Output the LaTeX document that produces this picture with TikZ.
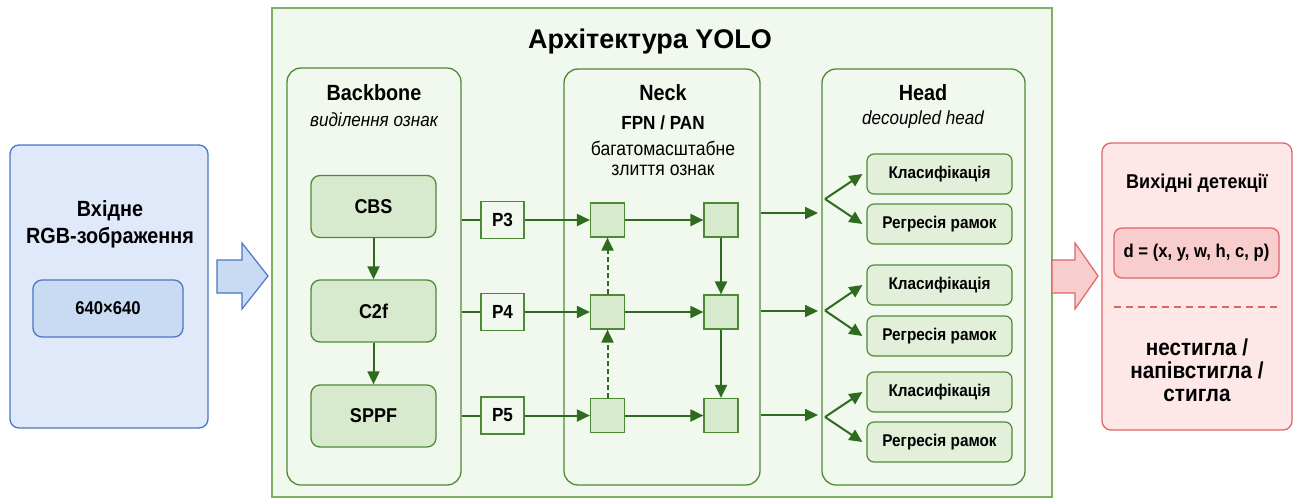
\documentclass[tikz,border=0pt]{standalone}
\usepackage{fontspec}
\setmainfont{Liberation Sans}[FakeStretch=0.9]
\newfontfamily\titlefont{Liberation Sans}
\usetikzlibrary{arrows.meta}

\definecolor{bluefill}{HTML}{DFE9F9}
\definecolor{blueinner}{HTML}{C9DAF3}
\definecolor{blueline}{HTML}{4A76C4}
\definecolor{yolofill}{HTML}{F1F8EE}
\definecolor{yololine}{HTML}{7DB062}
\definecolor{grline}{HTML}{4E8A36}
\definecolor{grnode}{HTML}{D8EACD}
\definecolor{grlight}{HTML}{E2F0DA}
\definecolor{grarrow}{HTML}{2E6B1E}
\definecolor{redfill}{HTML}{FDE7E7}
\definecolor{redinner}{HTML}{F8CDCD}
\definecolor{redline}{HTML}{E06666}

\newcommand{\fsz}[2]{\fontsize{#1}{#2}\selectfont}

\begin{document}
\begin{tikzpicture}[x=1pt,y=-1pt,
  lbl/.style={inner sep=0pt, text=black},
  stage/.style={draw=grline, line width=1.3pt, fill=yolofill, rounded corners=14pt, inner sep=0pt},
  block/.style={draw=grline, line width=1.3pt, fill=grnode, rounded corners=9pt,
    minimum width=125pt, minimum height=62pt, inner sep=0pt, font=\bfseries\fsz{20}{24}},
  pbox/.style={draw=grline, line width=1.2pt, fill=yolofill, minimum width=43pt,
    minimum height=37pt, inner sep=0pt, font=\bfseries\fsz{19}{22}},
  sq/.style={draw=grline, line width=1.2pt, fill=grnode, minimum size=34pt, inner sep=0pt},
  hbox/.style={draw=grline, line width=1.2pt, fill=grlight, rounded corners=7pt,
    minimum width=145pt, minimum height=40pt, inner sep=0pt, font=\bfseries\fsz{17}{20}},
  link/.style={draw=grarrow, line width=2pt},
  flow/.style={link, -{Triangle[length=13pt,width=12pt]}},
  skip/.style={flow, dash pattern=on 5pt off 3pt},
  bigarrow/.style={line width=1.2pt, line join=miter}
]
\useasboundingbox (0,0) rectangle (1296,499);

% ---------- input ----------
\node[draw=blueline, line width=1.3pt, fill=bluefill, rounded corners=9pt,
      minimum width=198pt, minimum height=283pt, inner sep=0pt] (inbox) at (109,286.5) {};
\node[lbl, align=center, font=\bfseries\fsz{22}{27}] (intext) at (110,224) {Вхідне\\RGB-зображення};
\node[draw=blueline, line width=1.3pt, fill=blueinner, rounded corners=9pt,
      minimum width=150pt, minimum height=57pt, inner sep=0pt, font=\bfseries\fsz{18.5}{22}]
      (insize) at (108,308.5) {640×640};
\draw[bigarrow, draw=blueline, fill=blueinner]
  (217,260) -- (242,260) -- (242,243) -- (268,276) -- (242,309) -- (242,293) -- (217,293) -- cycle;

% ---------- YOLO frame ----------
\node[draw=yololine, line width=1.3pt, fill=yolofill, minimum width=780pt,
      minimum height=489pt, inner sep=0pt] (yolo) at (662,252.5) {};
\node[lbl, font=\titlefont\bfseries\fsz{27}{32}] (title) at (650,42) {Архітектура YOLO};

% ---------- Backbone ----------
\node[stage, minimum width=174pt, minimum height=417pt] (backbone) at (374,276.5) {};
\node[lbl, font=\bfseries\fsz{22}{26}] (bbname) at (374,93) {Backbone};
\node[lbl, font=\itshape\fsz{19}{22}] (bbsub) at (374,120) {виділення ознак};
\node[block] (cbs)  at (373.5,206.5) {CBS};
\node[block] (c2f)  at (373.5,311) {C2f};
\node[block] (sppf) at (373.5,416) {SPPF};
\draw[flow] (cbs) -- (c2f);
\draw[flow] (c2f) -- (sppf);

% ---------- scale outputs ----------
\node[pbox] (p3) at (502.5,220) {P3};
\node[pbox] (p4) at (502.5,312) {P4};
\node[pbox] (p5) at (502.5,415.5) {P5};

% ---------- Neck ----------
\node[stage, minimum width=196pt, minimum height=416pt] (neck) at (662,277) {};
\node[lbl, font=\bfseries\fsz{22}{26}] (nkname) at (663,93) {Neck};
\node[lbl, font=\bfseries\fsz{19}{22}] (nkfpn) at (663,123) {FPN / PAN};
\node[lbl, font=\fsz{19.5}{23}] (nksub1) at (663,148) {багатомасштабне};
\node[lbl, font=\fsz{19.5}{23}] (nksub2) at (663,170) {злиття ознак};

\node[sq] (l1) at (607.5,220) {};
\node[sq] (l2) at (607.5,312) {};
\node[sq] (l3) at (607.5,415.5) {};
\node[sq] (r1) at (721,220) {};
\node[sq] (r2) at (721,312) {};
\node[sq] (r3) at (721,415.5) {};

\foreach \p/\l in {p3/l1, p4/l2, p5/l3}{
  \draw[link] (backbone.east |- \p) -- (\p.west);
  \draw[flow] (\p.east) -- (\l.west);
}
\draw[flow] (l1) -- (r1);
\draw[flow] (l2) -- (r2);
\draw[flow] (l3) -- (r3);
\draw[flow] (r1) -- (r2);
\draw[flow] (r2) -- (r3);
\draw[skip] (l3) -- (l2);
\draw[skip] (l2) -- (l1);

% ---------- Head ----------
\node[stage, minimum width=203pt, minimum height=416pt] (head) at (923.5,277) {};
\node[lbl, font=\bfseries\fsz{22}{26}] (hdname) at (923,93) {Head};
\node[lbl, font=\itshape\fsz{19}{22}] (hdsub) at (923,120) {decoupled head};

\node[hbox] (c1) at (939.5,174) {Класифікація};
\node[hbox] (g1) at (939.5,224) {Регресія рамок};
\node[hbox] (c2) at (939.5,285) {Класифікація};
\node[hbox] (g2) at (939.5,336) {Регресія рамок};
\node[hbox] (c3) at (939.5,392) {Класифікація};
\node[hbox] (g3) at (939.5,442) {Регресія рамок};

\coordinate (o1) at (818,213);
\coordinate (o2) at (818,311);
\coordinate (o3) at (818,415);
\coordinate (f1) at (825,199);
\coordinate (f2) at (825,310.5);
\coordinate (f3) at (825,417);
\foreach \o in {o1,o2,o3}{
  \draw[flow] (neck.east |- \o) -- (\o);
}
\foreach \f/\c/\g in {f1/c1/g1, f2/c2/g2, f3/c3/g3}{
  \draw[flow] (\f) -- ([xshift=-4pt]\c.west);
  \draw[flow] (\f) -- ([xshift=-4pt]\g.west);
}

% ---------- output ----------
\draw[bigarrow, draw=redline, fill=redinner]
  (1052,260) -- (1075,260) -- (1075,243) -- (1098,276) -- (1075,309) -- (1075,293) -- (1052,293) -- cycle;
\node[draw=redline, line width=1.3pt, fill=redfill, rounded corners=9pt,
      minimum width=190pt, minimum height=287pt, inner sep=0pt] (outbox) at (1197,286.5) {};
\node[lbl, font=\bfseries\fsz{20}{24}] (outname) at (1197,183) {Вихідні детекції};
\node[draw=redline, line width=1.3pt, fill=redinner, rounded corners=8pt,
      minimum width=165pt, minimum height=50pt, inner sep=0pt, font=\bfseries\fsz{18.5}{22}]
      (dvec) at (1196.5,253) {d = (x, y, w, h, c, p)};
\coordinate (sepL) at (1114,307);
\coordinate (sepR) at (1280,307);
\draw[redline, line width=1.3pt, dash pattern=on 7pt off 5pt] (sepL) -- (sepR);
\node[lbl, align=center, font=\bfseries\fsz{23}{23}] (ripe) at (1197,370)
  {нестигла /\\напівстигла /\\стигла};
\end{tikzpicture}
\end{document}
